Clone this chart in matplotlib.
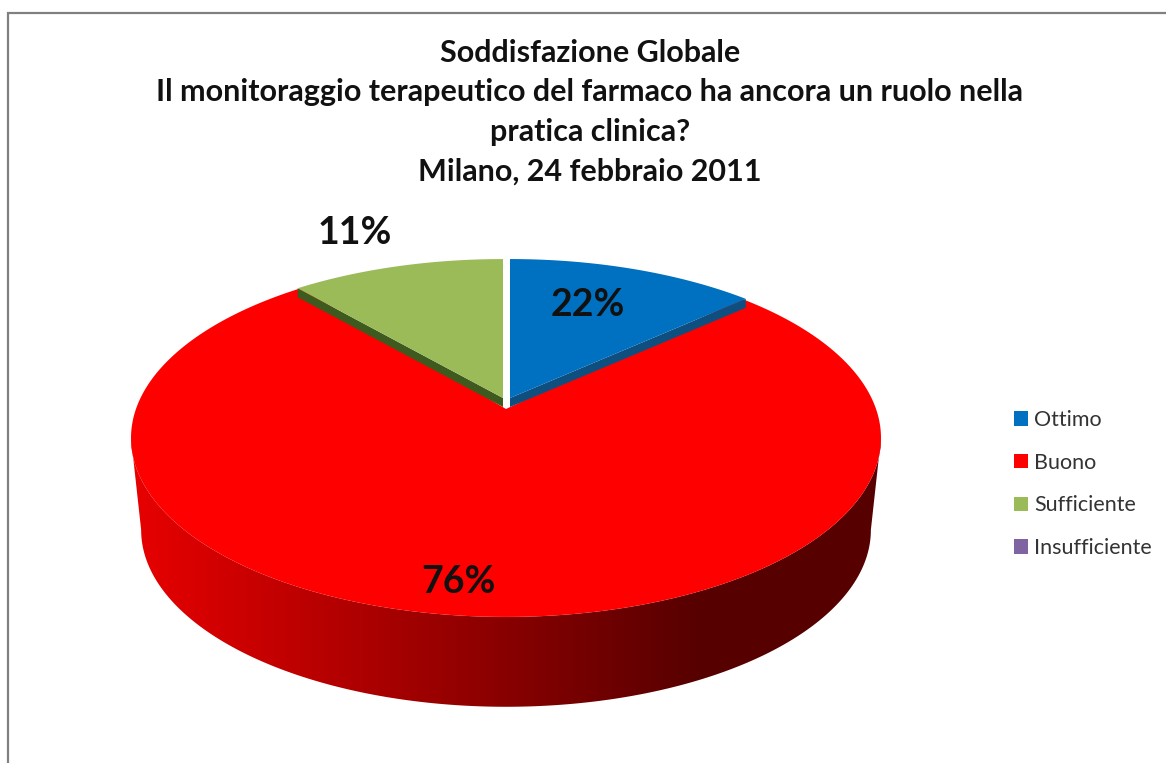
import numpy as np
from matplotlib import pyplot as plt
from matplotlib.patches import Patch, Polygon

title = ('Soddisfazione Globale\n'
         'Il monitoraggio terapeutico del farmaco ha ancora un ruolo nella\n'
         'pratica clinica?\n'
         'Milano, 24 febbraio 2011')
categories = ['Ottimo', 'Buono', 'Sufficiente', 'Insufficiente']
# size of the slices as drawn, the printed labels do not add up to 100
shares = [13.3, 75.3, 11.4, 0]
labels = ['22%', '76%', '11%']
colors = ['#0070C0', '#FF0000', '#9BBB59', '#8064A2']
edge_colors = ['#0F4F80', None, '#3F5A1E']

# pixel layout of the tilted pie
cx, cy = 506, 398
persp = 0.2235
rx, ry = 365.5, 170
depth = 9


def project(theta):
    # theta in radians, clockwise from 12 o'clock
    den = 1 + persp * np.cos(theta)
    return cx + rx * np.sin(theta) / den, cy - ry * np.cos(theta) / den


def lower_rim(x, y):
    # bottom edge of the wall, smaller and lower than the top edge
    return cx + (x - cx) * 0.973, 530 + (y - 438) * 0.988


fig = plt.figure(figsize=(11.66, 7.63), dpi=100)
ax = fig.add_axes([0, 0, 1, 1])

edges = np.radians(np.cumsum([0] + shares) * 3.6)
b_end, r_end = edges[1], edges[2]

t = np.linspace(b_end, r_end, 400)
xt, yt = project(t)
xb, yb = lower_rim(xt, yt)

# red wall, a horizontal gradient clipped to the front part of the rim
i_r, i_l = np.argmax(xt), np.argmin(xt)
wall = Polygon(np.c_[np.r_[xt[i_r:i_l + 1], xb[i_r:i_l + 1][::-1]],
                     np.r_[yt[i_r:i_l + 1], yb[i_r:i_l + 1][::-1]]],
               transform=ax.transData)
grad_x = np.linspace(131, 881, 300)
grad = np.clip((grad_x - 131) / (700 - 131), 0, 1)
rgb = np.zeros((1, 300, 3))
rgb[0, :, 0] = 0.91 - 0.57 * grad
img = ax.imshow(rgb, extent=[131, 881, 720, 430], aspect='auto', interpolation='bilinear')
img.set_clip_path(wall)

ax.set_xlim(0, 1166)
ax.set_ylim(763, 0)
ax.axis('off')

# red top
ax.fill(np.r_[xt, cx], np.r_[yt, cy + depth + 2], color=colors[1], lw=0)

# blue and green slices with their thin cut side, white gap at 12 o'clock
for idx, shift in ((0, 4), (2, -3)):
    t = np.linspace(edges[idx], edges[idx + 1], 100)
    x, y = project(t)
    x = x + shift
    apex_x = cx + shift
    rim_i = -1 if idx == 0 else 0
    ax.fill([apex_x, x[rim_i], x[rim_i], apex_x],
            [cy, y[rim_i], y[rim_i] + depth, cy + depth],
            color=edge_colors[idx], lw=0)
    ax.fill(np.r_[x, apex_x], np.r_[y, cy], color=colors[idx], lw=0)

font = ['Lato', 'DejaVu Sans']
ax.text(590, 112, title, ha='center', va='center', fontsize=22,
        fontweight='bold', family=font, linespacing=1.5, color='#111111')
ax.text(588, 305, labels[0], ha='center', va='center', fontsize=27,
        fontweight='bold', family=font, color='#111111')
ax.text(458, 582, labels[1], ha='center', va='center', fontsize=27,
        fontweight='bold', family=font, color='#111111')
ax.text(355, 233, labels[2], ha='center', va='center', fontsize=27,
        fontweight='bold', family=font, color='#111111')

handles = [Patch(facecolor=c, edgecolor='none', label=n) for c, n in zip(colors, categories)]
ax.legend(handles=handles, loc='center left', bbox_to_anchor=(1014 / 1166, 1 - 484 / 763),
          frameon=False, prop={'family': font, 'size': 15.5}, labelcolor='#333333',
          handlelength=0.65, handleheight=0.65, handletextpad=0.27,
          labelspacing=1.05, borderpad=0, borderaxespad=0)

# grey frame cut by the page
ax.plot([8, 8, 1166], [763, 13, 13], color='#808080', lw=1.6,
        solid_joinstyle='miter')

plt.savefig('out.png', format='png')
